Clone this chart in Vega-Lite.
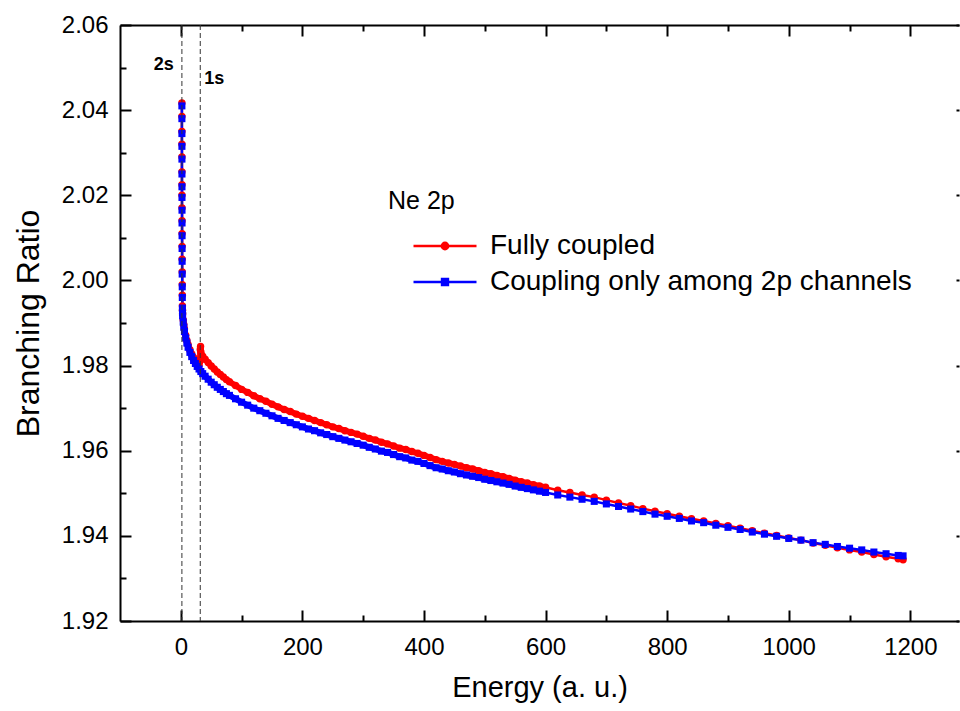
{
  "$schema": "https://vega.github.io/schema/vega-lite/v6.json",
  "width": 839,
  "height": 596,
  "autosize": "none",
  "padding": {"left": 120, "top": 25, "right": 1, "bottom": 90},
  "background": "white",
  "config": {
    "view": {"stroke": null},
    "font": "Liberation Sans",
    "axis": {"labelFont": "Liberation Sans", "titleFont": "Liberation Sans", "grid": false, "tickColor": "black", "domainColor": "black", "labelColor": "black", "titleColor": "black"},
    "legend": {"labelFont": "Liberation Sans", "titleFont": "Liberation Sans"}
  },
  "data": {"values": [
    {"e":1.8,"f":2.0417,"c":2.041},
    {"e":1.82,"f":2.0385,"c":2.038},
    {"e":1.84,"f":2.035,"c":2.0345},
    {"e":1.86,"f":2.032,"c":2.0315},
    {"e":1.88,"f":2.029,"c":2.0285},
    {"e":1.9,"f":2.0255,"c":2.025},
    {"e":1.93,"f":2.0225,"c":2.022},
    {"e":1.96,"f":2.02,"c":2.0195},
    {"e":2.0,"f":2.017,"c":2.0165},
    {"e":2.05,"f":2.014,"c":2.0135},
    {"e":2.1,"f":2.011,"c":2.0105},
    {"e":2.15,"f":2.008,"c":2.0075},
    {"e":2.2,"f":2.005,"c":2.0045},
    {"e":2.3,"f":2.002,"c":2.0015},
    {"e":2.4,"f":1.999,"c":1.9985},
    {"e":2.5,"f":1.9965,"c":1.996},
    {"e":2.65,"f":1.994,"c":1.9935},
    {"e":2.8,"f":1.993,"c":1.9925},
    {"e":3,"f":1.9922,"c":1.9917},
    {"e":4,"f":1.9907,"c":1.9902},
    {"e":5,"f":1.9896,"c":1.989},
    {"e":6,"f":1.9886,"c":1.988},
    {"e":8,"f":1.9871,"c":1.9865},
    {"e":10,"f":1.9859,"c":1.9853},
    {"e":12,"f":1.9849,"c":1.9843},
    {"e":15,"f":1.9837,"c":1.9831},
    {"e":18,"f":1.9827,"c":1.9821},
    {"e":21,"f":1.9819,"c":1.9812},
    {"e":24,"f":1.9812,"c":1.9805},
    {"e":27,"f":1.9805,"c":1.9798},
    {"e":30,"f":1.98,"c":1.9792},
    {"e":31.5,"f":1.981},
    {"e":32,"f":1.9838},
    {"e":32.5,"f":1.9845},
    {"e":33,"f":1.9832,"c":1.9786},
    {"e":36,"f":1.9822,"c":1.9781},
    {"e":40,"f":1.9815,"c":1.9775},
    {"e":45,"f":1.9807,"c":1.9768},
    {"e":50,"f":1.9799,"c":1.9761},
    {"e":55,"f":1.9792,"c":1.9755},
    {"e":60,"f":1.9785,"c":1.9749},
    {"e":65,"f":1.9779,"c":1.9744},
    {"e":70,"f":1.9773,"c":1.9739},
    {"e":75,"f":1.9767,"c":1.9734},
    {"e":80,"f":1.9762,"c":1.973},
    {"e":90,"f":1.9753,"c":1.9722},
    {"e":100,"f":1.9744,"c":1.9714},
    {"e":110,"f":1.9737,"c":1.9707},
    {"e":120,"f":1.9729,"c":1.97},
    {"e":130,"f":1.9722,"c":1.9694},
    {"e":140,"f":1.9716,"c":1.9688},
    {"e":150,"f":1.9709,"c":1.9682},
    {"e":160,"f":1.9703,"c":1.9676},
    {"e":170,"f":1.9697,"c":1.9671},
    {"e":180,"f":1.9692,"c":1.9666},
    {"e":190,"f":1.9686,"c":1.9661},
    {"e":200,"f":1.9681,"c":1.9656},
    {"e":210,"f":1.9676,"c":1.9651},
    {"e":220,"f":1.9671,"c":1.9647},
    {"e":230,"f":1.9666,"c":1.9642},
    {"e":240,"f":1.9661,"c":1.9638},
    {"e":250,"f":1.9656,"c":1.9633},
    {"e":260,"f":1.9652,"c":1.9629},
    {"e":270,"f":1.9647,"c":1.9625},
    {"e":280,"f":1.9643,"c":1.9621},
    {"e":290,"f":1.9639,"c":1.9617},
    {"e":300,"f":1.9634,"c":1.9613},
    {"e":310,"f":1.9629,"c":1.9608},
    {"e":320,"f":1.9625,"c":1.9604},
    {"e":330,"f":1.962,"c":1.9599},
    {"e":340,"f":1.9616,"c":1.9596},
    {"e":350,"f":1.9611,"c":1.9591},
    {"e":360,"f":1.9606,"c":1.9586},
    {"e":370,"f":1.9603,"c":1.9583},
    {"e":380,"f":1.9598,"c":1.9578},
    {"e":390,"f":1.9594,"c":1.9575},
    {"e":400,"f":1.9589,"c":1.957},
    {"e":410,"f":1.9584,"c":1.9565},
    {"e":420,"f":1.9579,"c":1.956},
    {"e":430,"f":1.9575,"c":1.9557},
    {"e":440,"f":1.9571,"c":1.9553},
    {"e":450,"f":1.9568,"c":1.955},
    {"e":460,"f":1.9564,"c":1.9546},
    {"e":470,"f":1.956,"c":1.9543},
    {"e":480,"f":1.9557,"c":1.954},
    {"e":490,"f":1.9553,"c":1.9537},
    {"e":500,"f":1.9549,"c":1.9533},
    {"e":510,"f":1.9546,"c":1.953},
    {"e":520,"f":1.9542,"c":1.9527},
    {"e":530,"f":1.9539,"c":1.9524},
    {"e":540,"f":1.9535,"c":1.9521},
    {"e":550,"f":1.9531,"c":1.9517},
    {"e":560,"f":1.9527,"c":1.9514},
    {"e":570,"f":1.9524,"c":1.9511},
    {"e":580,"f":1.952,"c":1.9508},
    {"e":590,"f":1.9517,"c":1.9505},
    {"e":600,"f":1.9514,"c":1.9502},
    {"e":620,"f":1.9507,"c":1.9496},
    {"e":640,"f":1.9502,"c":1.9491},
    {"e":660,"f":1.9496,"c":1.9486},
    {"e":680,"f":1.9491,"c":1.9481},
    {"e":700,"f":1.9484,"c":1.9475},
    {"e":720,"f":1.9477,"c":1.9469},
    {"e":740,"f":1.9471,"c":1.9463},
    {"e":760,"f":1.9464,"c":1.9457},
    {"e":780,"f":1.9458,"c":1.9451},
    {"e":800,"f":1.9452,"c":1.9446},
    {"e":820,"f":1.9446,"c":1.9441},
    {"e":840,"f":1.944,"c":1.9435},
    {"e":860,"f":1.9435,"c":1.9431},
    {"e":880,"f":1.9429,"c":1.9425},
    {"e":900,"f":1.9424,"c":1.942},
    {"e":920,"f":1.9418,"c":1.9415},
    {"e":940,"f":1.9412,"c":1.9409},
    {"e":960,"f":1.9406,"c":1.9404},
    {"e":980,"f":1.9401,"c":1.9399},
    {"e":1000,"f":1.9395,"c":1.9394},
    {"e":1020,"f":1.939,"c":1.939},
    {"e":1040,"f":1.9383,"c":1.9384},
    {"e":1060,"f":1.9378,"c":1.938},
    {"e":1080,"f":1.9372,"c":1.9375},
    {"e":1100,"f":1.9367,"c":1.9371},
    {"e":1120,"f":1.9362,"c":1.9367},
    {"e":1140,"f":1.9356,"c":1.9362},
    {"e":1160,"f":1.9351,"c":1.9358},
    {"e":1180,"f":1.9346,"c":1.9354},
    {"e":1188,"f":1.9344,"c":1.9353}
  ]},
  "layer": [
    {
      "transform": [{"fold": ["f", "c"], "as": ["series", "ratio"]}, {"filter": "isValid(datum.ratio)"}],
      "mark": {"type": "line", "strokeWidth": 2.5},
      "encoding": {
        "x": {"field": "e", "type": "quantitative", "scale": {"domain": [-100, 1280], "nice": false, "zero": false},
          "axis": {"orient": "bottom", "values": [0, 200, 400, 600, 800, 1000, 1200], "format": ".0f", "tickSize": -11, "tickWidth": 2, "domainWidth": 2, "labelFontSize": 24, "labelPadding": 25, "labelFlush": false, "labelOverlap": false, "title": "Energy (a. u.)", "titleFontSize": 29, "titleFontWeight": "normal", "titlePadding": 14}},
        "y": {"field": "ratio", "type": "quantitative", "scale": {"domain": [1.92, 2.06], "nice": false, "zero": false},
          "axis": {"orient": "left", "values": [1.92, 1.94, 1.96, 1.98, 2.0, 2.02, 2.04, 2.06], "format": ".2f", "tickSize": -11, "tickWidth": 2, "domainWidth": 2, "labelFontSize": 24, "labelPadding": 23, "labelFlush": false, "labelOverlap": false, "title": "Branching Ratio", "titleFontSize": 32, "titleFontWeight": "normal", "titlePadding": 16}},
        "color": {"field": "series", "type": "nominal", "scale": {"domain": ["f", "c"], "range": ["#ff0000", "#0000ff"]},
          "legend": {"orient": "none", "legendX": 268, "legendY": 164, "title": "Ne 2p", "titleFontSize": 25, "titleFontWeight": "normal", "titleColor": "black", "titlePadding": 18, "labelFontSize": 28, "labelColor": "black", "labelLimit": 0, "labelOffset": 31, "rowPadding": 8, "symbolOffset": 43,
            "symbolType": "M-3,0H3M0.3,0A0.3,0.3,0,1,1,-0.3,0A0.3,0.3,0,1,1,0.3,0Z", "symbolSize": 441, "symbolStrokeWidth": 2.5,
            "labelExpr": "datum.value == 'f' ? 'Fully coupled' : 'Coupling only among 2p channels'",
            "encode": {"symbols": {"update": {"fill": {"scale": "color", "field": "value"}, "stroke": {"scale": "color", "field": "value"}, "opacity": {"value": 1},
              "shape": {"signal": "datum.value == 'f' ? 'M-3,0H3M0.3,0A0.3,0.3,0,1,1,-0.3,0A0.3,0.3,0,1,1,0.3,0Z' : 'M-3,0H3M-0.28,-0.28H0.28V0.28H-0.28Z'"}}}}}}
      }
    },
    {
      "transform": [{"fold": ["f", "c"], "as": ["series", "ratio"]}, {"filter": "isValid(datum.ratio) && datum.e >= 3 && datum.e <= 600"}],
      "mark": {"type": "line", "strokeWidth": 6},
      "encoding": {
        "x": {"field": "e", "type": "quantitative", "axis": null},
        "y": {"field": "ratio", "type": "quantitative", "axis": null},
        "color": {"field": "series", "type": "nominal", "legend": null}
      }
    },
    {
      "transform": [{"fold": ["f", "c"], "as": ["series", "ratio"]}, {"filter": "isValid(datum.ratio) && datum.series == 'f'"}],
      "mark": {"type": "point", "shape": "circle", "filled": true, "size": 55, "color": "#ff0000", "opacity": 1},
      "encoding": {
        "x": {"field": "e", "type": "quantitative", "scale": {"domain": [-100, 1280], "nice": false, "zero": false},
          "axis": {"orient": "bottom", "values": [100, 300, 500, 700, 900, 1100], "tickSize": -6, "tickWidth": 2, "domain": false, "labels": false, "title": null}},
        "y": {"field": "ratio", "type": "quantitative", "scale": {"domain": [1.92, 2.06], "nice": false, "zero": false},
          "axis": {"orient": "left", "values": [1.93, 1.95, 1.97, 1.99, 2.01, 2.03, 2.05], "tickSize": -6, "tickWidth": 2, "domain": false, "labels": false, "title": null}}
      }
    },
    {
      "transform": [{"fold": ["f", "c"], "as": ["series", "ratio"]}, {"filter": "isValid(datum.ratio) && datum.series == 'c'"}],
      "mark": {"type": "point", "shape": "square", "filled": true, "size": 50, "color": "#0000ff", "opacity": 1},
      "encoding": {
        "x": {"field": "e", "type": "quantitative", "scale": {"domain": [-100, 1280], "nice": false, "zero": false},
          "axis": {"orient": "top", "values": [0, 200, 400, 600, 800, 1000, 1200], "tickSize": -11, "tickWidth": 2, "domainWidth": 2, "labels": false, "title": null}},
        "y": {"field": "ratio", "type": "quantitative", "scale": {"domain": [1.92, 2.06], "nice": false, "zero": false},
          "axis": {"orient": "right", "values": [1.92, 1.94, 1.96, 1.98, 2.0, 2.02, 2.04, 2.06], "tickSize": -3, "tickWidth": 2, "domain": false, "labels": false, "title": null}}
      }
    },
    {
      "data": {"values": [{"e": 1.8}, {"e": 32}]},
      "mark": {"type": "rule", "strokeDash": [5, 3], "strokeWidth": 1, "color": "#333333"},
      "encoding": {
        "x": {"field": "e", "type": "quantitative", "scale": {"domain": [-100, 1280], "nice": false, "zero": false},
          "axis": {"orient": "top", "values": [100, 300, 500, 700, 900, 1100], "tickSize": -6, "tickWidth": 2, "domain": false, "labels": false, "title": null}}
      }
    },
    {
      "data": {"values": [{"e": 1.8, "r": 2.0506, "label": "2s"}]},
      "mark": {"type": "text", "fontSize": 18, "fontWeight": "bold", "color": "black", "baseline": "middle", "align": "right", "dx": -8},
      "encoding": {
        "x": {"field": "e", "type": "quantitative", "axis": null},
        "y": {"field": "r", "type": "quantitative", "axis": null},
        "text": {"field": "label"}
      }
    },
    {
      "data": {"values": [{"e": 32, "r": 2.0473, "label": "1s"}]},
      "mark": {"type": "text", "fontSize": 18, "fontWeight": "bold", "color": "black", "baseline": "middle", "align": "left", "dx": 4},
      "encoding": {
        "x": {"field": "e", "type": "quantitative", "axis": null},
        "y": {"field": "r", "type": "quantitative", "axis": null},
        "text": {"field": "label"}
      }
    }
  ],
  "resolve": {"axis": {"x": "independent", "y": "independent"}}
}
